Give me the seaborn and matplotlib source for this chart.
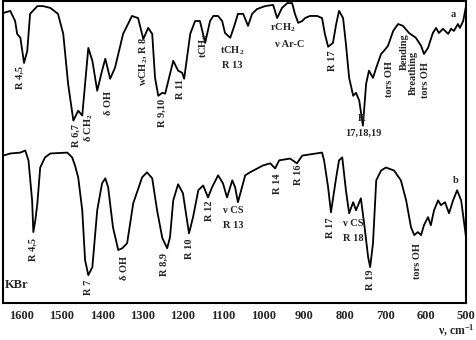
import numpy as np
import pandas as pd
import matplotlib
matplotlib.use("Agg")
import matplotlib.pyplot as plt
import seaborn as sns

# spectrum a (upper trace)
wn_a = [1644, 1627, 1615, 1610, 1602, 1593, 1585, 1578, 1560, 1546, 1528, 1509, 1496, 1484,
        1471, 1459, 1449, 1442, 1434, 1424, 1412, 1400, 1392, 1380, 1368, 1348, 1326, 1311,
        1298, 1286, 1276, 1269, 1261, 1251, 1244, 1224, 1212, 1202, 1197, 1182, 1170, 1158,
        1145, 1133, 1125, 1113, 1103, 1096, 1083, 1073, 1064, 1051, 1039, 1029, 1017, 997,
        977, 967, 955, 942, 930, 923, 915, 905, 898, 886, 868, 856, 849, 841, 829, 821,
        814, 804, 797, 789, 779, 772, 764, 755, 747, 740, 730, 722, 710, 703, 693, 680,
        668, 656, 641, 624, 611, 604, 594, 582, 574, 567, 557, 544, 537, 530, 520, 515,
        507, 500]
T_a = [96.0, 96.7, 93.3, 89.0, 87.7, 79.3, 83.3, 95.7, 98.3, 98.3, 97.7, 95.7, 89.0, 72.3,
       60.0, 63.3, 61.7, 72.3, 84.3, 80.0, 70.0, 76.7, 80.7, 74.0, 77.7, 89.0, 95.0, 94.3,
       87.3, 91.0, 89.0, 74.3, 68.3, 69.3, 69.0, 80.0, 76.7, 76.0, 74.0, 89.0, 93.3, 93.3,
       86.0, 93.3, 95.0, 95.0, 93.3, 89.3, 87.7, 91.7, 95.7, 95.7, 91.7, 95.7, 97.3, 98.3,
       98.7, 94.3, 97.7, 99.3, 99.3, 95.7, 92.7, 93.3, 94.3, 95.0, 95.0, 94.3, 89.0, 84.7,
       86.0, 92.3, 96.7, 94.3, 85.7, 74.3, 68.3, 69.3, 66.7, 58.3, 72.3, 76.7, 74.3, 77.7,
       82.3, 83.3, 85.0, 90.0, 92.3, 91.7, 89.3, 87.7, 85.0, 82.3, 84.3, 89.3, 91.0, 89.3,
       90.7, 89.0, 90.7, 90.0, 92.3, 91.0, 93.3, 98.3]

# spectrum b (lower trace)
wn_b = [1644, 1627, 1602, 1590, 1582, 1573, 1570, 1565, 1560, 1553, 1541, 1528, 1486, 1474,
        1467, 1459, 1449, 1442, 1434, 1424, 1412, 1400, 1392, 1385, 1373, 1360, 1350, 1338,
        1323, 1301, 1289, 1276, 1264, 1251, 1239, 1232, 1224, 1212, 1200, 1190, 1185, 1175,
        1162, 1150, 1138, 1128, 1113, 1101, 1091, 1078, 1071, 1064, 1054, 1046, 1034, 1002,
        984, 972, 962, 935, 918, 905, 856, 851, 841, 834, 821, 814, 806, 797, 789, 779,
        772, 760, 752, 742, 737, 730, 722, 710, 698, 678, 661, 648, 636, 628, 619, 611,
        604, 594, 587, 579, 569, 562, 552, 542, 532, 522, 512, 500]
T_b = [48.3, 49.0, 49.3, 50.0, 46.7, 33.3, 22.7, 26.7, 32.3, 44.3, 47.7, 49.0, 49.3, 47.7,
       45.0, 41.0, 30.0, 13.3, 8.3, 11.0, 30.0, 39.0, 40.7, 37.7, 24.3, 16.7, 17.3, 19.0,
       32.3, 41.0, 42.7, 40.7, 30.0, 20.7, 17.3, 21.0, 33.3, 38.7, 35.7, 26.7, 22.3, 27.7,
       36.7, 38.3, 34.3, 37.7, 41.7, 39.0, 34.3, 40.0, 37.7, 32.7, 37.7, 41.7, 42.7, 45.0,
       45.7, 44.0, 46.7, 47.3, 45.7, 48.3, 49.3, 46.7, 37.7, 29.3, 41.0, 46.7, 47.7, 36.7,
       29.0, 32.7, 30.0, 34.0, 25.7, 14.3, 11.0, 19.0, 40.0, 43.3, 44.3, 43.3, 40.0, 33.3,
       24.3, 21.7, 22.7, 21.7, 25.0, 27.7, 25.0, 30.0, 33.3, 31.7, 32.7, 29.0, 33.3, 36.7,
       33.3, 21.0]

# band labels: (text, wavenumber, T, rotation)
labels_a = [("R 4,5", 1602, 74.3, 90), ("R 6,7", 1464, 55.0, 90), ("δ CH$_2$", 1434, 57.7, 90),
            ("δ OH", 1385, 66.0, 90), ("wCH$_2$, R 8", 1298, 79.7, 90), ("R 9,10", 1251, 62.7, 90),
            ("R 11", 1207, 70.7, 90), ("tCH$_2$", 1148, 85.0, 90), ("tCH$_2$", 1078, 83.3, 0),
            ("R 13", 1078, 78.3, 0), ("rCH$_2$", 952, 91.0, 0), ("ν Ar-C", 935, 85.6, 0),
            ("R 17", 830, 80.0, 90), ("R", 758, 60.7, 0), ("17,18,19", 755, 55.6, 0),
            ("tors OH", 690, 74.0, 90), ("Bending", 653, 83.0, 90), ("Breathing", 631, 76.0, 90),
            ("tors OH", 599, 73.7, 90), ("a", 532, 95.6, 0)]
labels_b = [("R 4,5", 1570, 17.0, 90), ("R 7", 1434, 4.3, 90), ("δ OH", 1345, 10.7, 90),
            ("R 8,9", 1246, 11.7, 90), ("R 10", 1185, 17.0, 90), ("R 12", 1135, 29.7, 90),
            ("ν CS", 1076, 30.0, 0), ("R 13", 1076, 25.0, 0), ("R 14", 965, 39.0, 90),
            ("R 16", 915, 42.0, 90), ("R 17", 836, 24.3, 90), ("ν CS", 779, 25.7, 0),
            ("R 18", 779, 20.7, 0), ("R 19", 735, 6.7, 90), ("tors OH", 619, 13.0, 90),
            ("b", 525, 40.0, 0)]

sns.set_style("white")
plt.rcParams['font.family'] = ['Liberation Serif', 'DejaVu Serif']
plt.rcParams['font.weight'] = 'bold'
plt.rcParams['mathtext.fontset'] = 'custom'
plt.rcParams['mathtext.rm'] = 'Liberation Serif:bold'
plt.rcParams['mathtext.default'] = 'rm'

fig = plt.figure(figsize=(4.76, 3.4), dpi=100)
ax = fig.add_axes([0.0063, 0.109, 0.9727, 0.888])

df_a = pd.DataFrame({"wn": wn_a, "T": T_a})
df_b = pd.DataFrame({"wn": wn_b, "T": T_b})
sns.lineplot(data=df_a, x="wn", y="T", color="black", lw=1.3, estimator=None, ax=ax)
sns.lineplot(data=df_b, x="wn", y="T", color="black", lw=1.3, estimator=None, ax=ax)

for txt, x, y, rot in labels_a + labels_b:
    ax.text(x, y, txt, rotation=rot, ha="center", va="center", fontsize=7.5, fontweight="bold")
ax.text(1640, 5, "KBr", ha="left", va="center", fontsize=9, fontweight="bold")

ax.set_xlim(1645, 500)
ax.set_ylim(-1, 100)
ax.set_xticks(np.arange(1600, 499, -100))
ax.set_xticks(np.arange(1550, 499, -100), minor=True)
ax.set_yticks([])
ax.tick_params(axis="x", which="both", direction="in", length=5, width=1.2, labelsize=9, pad=5)
for lbl in ax.get_xticklabels():
    lbl.set_fontweight("bold")
for s in ax.spines.values():
    s.set_linewidth(1.5)
    s.set_color("black")
ax.set_xlabel("")
ax.set_ylabel("")
fig.text(0.997, 0.003, "ν, cm$^{-1}$", ha="right", va="bottom", fontsize=8.5, fontweight="bold")

fig.savefig("out.png", dpi=100)
